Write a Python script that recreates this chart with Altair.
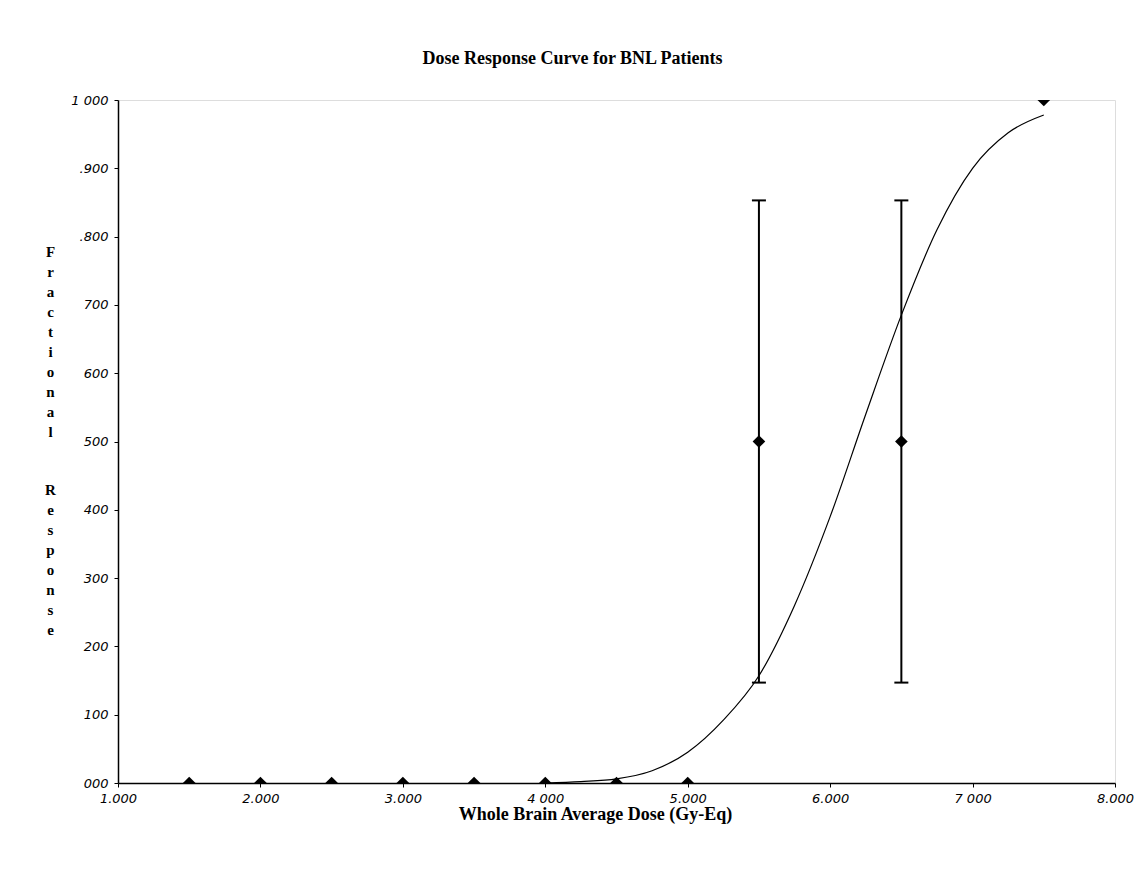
import altair as alt
import pandas as pd

# ---- data ----
doses = [1.5, 2.0, 2.5, 3.0, 3.5, 4.0, 4.5, 5.0, 5.5, 6.5, 7.5]
responses = [0.0, 0.0, 0.0, 0.0, 0.0, 0.0, 0.0, 0.0, 0.5, 0.5, 1.0]

err_dose = [5.5, 6.5]
err_low = [0.147, 0.147]
err_high = [0.853, 0.853]

curve_dose = [4.0, 4.25, 4.5, 4.75, 5.0, 5.25, 5.5, 5.75, 6.0, 6.25, 6.5, 6.75, 7.0, 7.25, 7.5]
curve_resp = [0.0, 0.002, 0.006, 0.018, 0.045, 0.092, 0.157, 0.26, 0.39, 0.54, 0.685, 0.81, 0.9, 0.952, 0.978]

x_ticks = [1, 2, 3, 4, 5, 6, 7, 8]
x_tick_labels = ["1.000", "2.000", "3.000", "4 000", "5.000", "6.000", "7 000", "8.000"]
y_ticks = [0.0, 0.1, 0.2, 0.3, 0.4, 0.5, 0.6, 0.7, 0.8, 0.9, 1.0]
y_tick_labels = ["000", "100", "200", "300", "400", "500", "600", "700", ".800", ".900", "1 000"]

title_text = "Dose Response Curve for BNL Patients"
x_title = "Whole Brain Average Dose (Gy-Eq)"
y_title_words = ["Fractional", "Response"]

# ---- tables ----
pts = pd.DataFrame({"dose": doses, "resp": responses})
err = pd.DataFrame({"dose": err_dose, "low": err_low, "high": err_high})
caps = pd.DataFrame({"dose": err_dose + err_dose, "resp": err_low + err_high})
curve = pd.DataFrame({"dose": curve_dose, "resp": curve_resp})

x_label_expr = "[" + ",".join("'" + s + "'" for s in x_tick_labels) + "][round(datum.value) - 1]"
y_label_expr = "[" + ",".join("'" + s + "'" for s in y_tick_labels) + "][round(datum.value * 10)]"

label_font = "DejaVu Sans"
title_font = "Liberation Serif"

xscale = alt.Scale(domain=[1, 8], nice=False, zero=False)
yscale = alt.Scale(domain=[0, 1], nice=False, zero=False)

# diamond marker, cut by the plot frame at the bottom / top edge
shape_scale = alt.Scale(
    domain=["low", "mid", "high"],
    range=["M-1,0L0,-1L1,0Z", "diamond", "M-1,0L0,1L1,0Z"],
)

title_style = dict(
    titleFont=title_font,
    titleFontWeight="bold",
    titleFontSize=15,
    titleColor="black",
    titleAngle=0,
    titleAlign="center",
    titleBaseline="top",
    titleLineHeight=20,
)

x_enc = alt.X(
    "dose:Q",
    scale=xscale,
    axis=alt.Axis(
        values=x_ticks,
        labelExpr=x_label_expr,
        labelFlush=False,
        title=x_title,
        grid=False,
        domainColor="black",
        domainWidth=1.5,
        tickColor="black",
        tickSize=4,
        labelFont=label_font,
        labelFontStyle="italic",
        labelFontSize=13,
        labelColor="black",
        labelPadding=5,
        titleFont=title_font,
        titleFontWeight="bold",
        titleFontSize=18,
        titleColor="black",
        titleX=477,
        titleY=36,
        titleAlign="center",
        titleBaseline="alphabetic",
    ),
)

y_main = alt.Y(
    "resp:Q",
    scale=yscale,
    axis=alt.Axis(
        orient="left",
        values=y_ticks,
        labelExpr=y_label_expr,
        labelFlush=False,
        title=list(y_title_words[0]),
        grid=False,
        domainColor="black",
        domainWidth=1.5,
        tickColor="black",
        tickSize=4,
        labelFont=label_font,
        labelFontStyle="italic",
        labelFontSize=13,
        labelColor="black",
        labelPadding=6,
        titleX=-68,
        titleY=144,
        **title_style,
    ),
)

y_second = alt.Y(
    "low:Q",
    scale=yscale,
    axis=alt.Axis(
        orient="left",
        values=y_ticks,
        labels=False,
        ticks=False,
        domain=False,
        grid=False,
        title=list(y_title_words[1]),
        titleX=-68,
        titleY=382,
        **title_style,
    ),
)

curve_layer = alt.Chart(curve).mark_line(
    color="black", strokeWidth=1.2, interpolate="monotone"
).encode(x=x_enc, y=y_main)

bars = alt.Chart(err).mark_rule(color="black", strokeWidth=2).encode(
    x=alt.X("dose:Q", scale=xscale),
    y=y_second,
    y2="high:Q",
)

cap_layer = alt.Chart(caps).mark_tick(
    color="black", orient="horizontal", size=14, thickness=2, opacity=1
).encode(
    x=alt.X("dose:Q", scale=xscale),
    y=alt.Y("resp:Q", scale=yscale, axis=None),
)

point_layer = (
    alt.Chart(pts)
    .transform_calculate(
        kind="datum.resp <= 0 ? 'low' : (datum.resp >= 1 ? 'high' : 'mid')"
    )
    .mark_point(filled=True, size=160, color="black", opacity=1)
    .encode(
        x=alt.X("dose:Q", scale=xscale),
        y=alt.Y("resp:Q", scale=yscale, axis=None),
        shape=alt.Shape("kind:N", scale=shape_scale, legend=None),
    )
)

chart = (
    alt.layer(curve_layer, bars, cap_layer, point_layer)
    .resolve_axis(y="independent")
    .properties(
        width=997,
        height=683,
        title=alt.TitleParams(
            text=title_text,
            font=title_font,
            fontWeight="bold",
            fontSize=18,
            color="black",
            anchor="middle",
            frame="group",
            dx=-44,
            offset=26,
        ),
        autosize=alt.AutoSizeParams(type="none"),
        padding={"left": 110, "top": 92, "right": 22, "bottom": 80},
    )
    .configure_view(stroke=None)
    .configure(background="white")
)

chart.save("out.html", embed_options={"renderer": "svg", "actions": False})
